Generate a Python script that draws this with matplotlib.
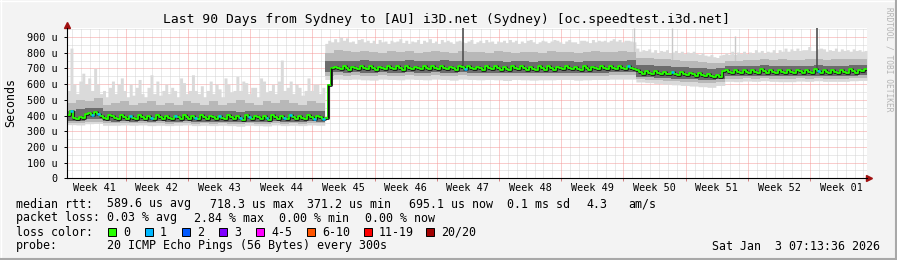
import numpy as np
import matplotlib
matplotlib.use("Agg")
import matplotlib.pyplot as plt
from matplotlib.patches import Rectangle
from matplotlib.lines import Line2D

W, H = 897, 260
MONO = "DejaVu Sans Mono"

title = "Last 90 Days from Sydney to [AU] i3D.net (Sydney) [oc.speedtest.i3d.net]"
week_labels = ["Week 41", "Week 42", "Week 43", "Week 44", "Week 45", "Week 46", "Week 47",
               "Week 48", "Week 49", "Week 50", "Week 51", "Week 52", "Week 01"]
y_values = [0, 100, 200, 300, 400, 500, 600, 700, 800, 900]
y_labels = ["0", "100 u", "200 u", "300 u", "400 u", "500 u", "600 u", "700 u", "800 u", "900 u"]

# median rtt (microseconds), 3 samples per day, 90 days
median = [
    402, 428, 386, 380, 392, 384, 412, 418, 404, 420, 410, 396,
    386, 380, 404, 394, 382, 378, 404, 390, 380, 400, 386, 378,
    402, 392, 380, 396, 384, 378, 404, 392, 380, 400, 386, 376,
    398, 388, 378, 402, 390, 380, 398, 386, 376, 404, 390, 378,
    400, 388, 376, 396, 384, 378, 402, 390, 376, 398, 384, 372,
    404, 392, 378, 400, 388, 376, 398, 384, 374, 404, 392, 380,
    400, 386, 376, 402, 390, 378, 398, 386, 376, 404, 392, 380,
    400, 388, 378, 386, 595, 704,
    712, 700, 694, 716, 702, 692, 712, 700, 694, 718, 704, 694,
    714, 700, 692, 712, 700, 696, 716, 702, 694, 714, 700, 692,
    718, 704, 696, 712, 700, 694, 716, 702, 694, 714, 702, 696,
    718, 704, 694, 712, 700, 692, 716, 708, 696, 714, 702, 694,
    712, 700, 692, 716, 702, 694, 714, 700, 692, 712, 698, 690,
    716, 702, 694, 714, 700, 692, 712, 698, 690, 716, 702, 692,
    714, 700, 692, 712, 700, 694, 716, 702, 694, 712, 698, 690,
    714, 700, 692, 712, 700, 694, 716, 702, 694, 714, 702, 696,
    716, 702, 696, 718, 704, 696,
    690, 676, 668, 684, 672, 666, 682, 670, 664, 680, 668, 662,
    678, 666, 658, 676, 664, 656, 674, 662, 654, 670, 658, 650,
    668, 654, 646, 660, 646, 682, 690, 680, 672, 688, 678, 670,
    692, 680, 672, 690, 678, 670, 694, 682, 674, 690, 680, 672,
    692, 680, 670, 688, 678, 670, 692, 682, 674, 690, 680, 672,
    694, 682, 674, 690, 678, 670, 692, 680, 672, 690, 680, 674,
    694, 682, 674, 690, 684, 694,
]

# highest ping per sample, 3 samples per day
smoke_max = [
    560, 830, 600, 540, 620, 670, 600, 640, 560, 700, 600, 540,
    560, 520, 580, 620, 540, 600, 640, 560, 520, 600, 530, 580,
    630, 540, 520, 580, 660, 540, 620, 530, 560, 600, 540, 580,
    560, 520, 640, 610, 540, 560, 660, 560, 540, 590, 520, 560,
    620, 540, 600, 570, 520, 640, 600, 550, 560, 650, 560, 620,
    610, 540, 580, 580, 520, 640, 620, 550, 560, 600, 540, 620,
    754, 560, 580, 620, 540, 600, 580, 530, 560, 640, 560, 600,
    600, 540, 580, 860, 880, 870,
    890, 870, 900, 880, 895, 870, 875, 860, 885, 890, 870, 880,
    865, 880, 860, 885, 870, 875, 860, 880, 870, 875, 890, 865,
    880, 860, 875, 870, 885, 860, 880, 870, 890, 865, 875, 860,
    885, 870, 880, 870, 860, 875, 880, 870, 865, 875, 885, 860,
    870, 880, 865, 885, 870, 875, 860, 875, 870, 880, 865, 885,
    870, 880, 860, 875, 865, 880, 885, 870, 860, 870, 880, 875,
    865, 875, 885, 880, 870, 860, 875, 885, 870, 870, 860, 880,
    880, 875, 865, 885, 870, 880, 875, 880, 870, 880, 890, 875,
    885, 870, 880, 880, 875, 870,
    830, 810, 820, 815, 825, 805, 820, 800, 815, 810, 820, 800,
    805, 815, 800, 810, 795, 805, 800, 810, 795, 790, 800, 785,
    780, 790, 775, 770, 785, 790, 800, 790, 810, 790, 805, 795,
    810, 795, 805, 800, 820, 805, 815, 800, 810, 805, 820, 800,
    820, 810, 830, 810, 825, 815, 830, 815, 820, 820, 840, 815,
    815, 825, 830, 825, 810, 820, 815, 830, 810, 825, 815, 820,
    810, 825, 815, 820, 810, 815,
]

# per-day percentile bands (microseconds)
smoke_hi = [
    480, 500, 490, 510, 470, 480, 490, 470, 480, 490, 470, 480, 470, 490, 480,
    470, 490, 470, 480, 500, 480, 470, 490, 480, 500, 480, 470, 490, 480, 800,
    815, 810, 805, 812, 808, 800, 810, 805, 812, 800, 808, 810, 805, 800, 812,
    808, 805, 800, 810, 806, 800, 808, 804, 800, 810, 805, 808, 800, 806, 810,
    804, 808, 812, 806, 770, 765, 760, 758, 755, 750, 745, 740, 735, 735, 745,
    750, 755, 752, 758, 755, 760, 752, 756, 760, 758, 755, 760, 758, 762, 760,
]
core_hi = [
    430, 440, 445, 445, 430, 428, 430, 426, 430, 428, 430, 426, 428, 430, 426,
    430, 428, 426, 430, 424, 430, 428, 426, 430, 428, 430, 426, 430, 428, 745,
    748, 750, 746, 752, 748, 746, 750, 748, 752, 746, 750, 748, 752, 746, 750,
    748, 746, 750, 748, 744, 750, 748, 744, 750, 748, 746, 750, 744, 748, 746,
    750, 748, 750, 752, 725, 720, 716, 714, 712, 708, 705, 700, 698, 700, 715,
    714, 718, 716, 720, 716, 718, 714, 718, 716, 720, 716, 718, 716, 720, 722,
]
core_lo = [
    368, 366, 375, 378, 364, 362, 364, 362, 364, 362, 364, 360, 362, 364, 360,
    362, 360, 362, 360, 356, 362, 360, 358, 364, 360, 362, 360, 364, 362, 675,
    676, 674, 676, 674, 672, 676, 674, 672, 676, 674, 674, 676, 674, 672, 676,
    674, 672, 674, 672, 670, 674, 672, 670, 672, 672, 674, 674, 670, 672, 674,
    674, 676, 676, 676, 648, 645, 642, 640, 636, 634, 632, 628, 624, 630, 652,
    650, 654, 652, 655, 652, 650, 650, 654, 652, 655, 652, 652, 652, 655, 658,
]
smoke_lo = [
    355, 352, 360, 362, 350, 350, 352, 350, 352, 350, 350, 348, 350, 352, 348,
    350, 348, 350, 348, 344, 350, 348, 346, 352, 348, 350, 348, 352, 350, 655,
    656, 654, 656, 654, 652, 656, 654, 652, 656, 654, 654, 656, 654, 652, 656,
    654, 652, 654, 652, 650, 654, 652, 650, 652, 652, 654, 654, 650, 652, 654,
    654, 656, 656, 656, 632, 628, 625, 622, 618, 615, 612, 608, 605, 612, 636,
    634, 638, 636, 640, 636, 634, 634, 638, 636, 640, 636, 636, 636, 640, 642,
]
smoke_min = [
    342, 340, 348, 350, 338, 338, 340, 338, 340, 336, 338, 336, 338, 340, 336,
    338, 336, 338, 336, 332, 338, 336, 334, 340, 336, 338, 336, 340, 338, 630,
    632, 630, 632, 628, 626, 632, 630, 628, 632, 630, 628, 632, 630, 626, 632,
    630, 628, 630, 628, 624, 630, 628, 626, 628, 628, 630, 630, 626, 628, 630,
    630, 632, 632, 632, 614, 610, 605, 600, 596, 592, 588, 584, 580, 592, 618,
    616, 620, 618, 622, 618, 616, 616, 620, 618, 622, 618, 618, 618, 622, 624,
]

# single-sample outliers: day, top value
dark_spike_day = [44.55, 84.35]
dark_spike_top = [960, 960]
light_spike_day = [63.8, 68.1, 75.2]
light_spike_top = [960, 960, 905]

# median samples with 1 lost ping
loss1_samples = [1, 8, 10, 21, 28, 36, 43, 51, 58, 61, 67, 73, 75, 83, 86, 134, 189, 204, 253]

loss_names = ["0", "1", "2", "3", "4-5", "6-10", "11-19", "20/20"]
loss_colors = ["#26ff00", "#00b8ff", "#0059ff", "#7e00ff", "#ff00ff", "#ff5500", "#ff0000", "#a10000"]


def fx(px):
    return px / W


def fy(py):
    return 1 - py / H


def steps(values, per_day):
    x = np.arange(len(values) + 1) / per_day
    y = np.append(values, values[-1])
    return x, y


fig = plt.figure(figsize=(W / 100, H / 100), dpi=100, facecolor="#f3f3f3")
ax = fig.add_axes([fx(67), fy(178.3), 800 / W, 149.8 / H])
ax.set_facecolor("white")
ax.set_xlim(0, 90)
ax.set_ylim(0, 955)

# grid
dot = (0, (1, 1))
week_edges = [6.6 + 7 * k for k in range(12)]
for d in np.arange(0.6, 90, 1.0):
    if min(abs(d - e) for e in week_edges) > 0.05:
        ax.axvline(d, color="#d4d4d4", lw=0.72, ls=dot, zorder=0)
for v in range(50, 1000, 100):
    ax.axhline(v, color="#d4d4d4", lw=0.72, ls=dot, zorder=0)
for e in week_edges:
    ax.axvline(e, color="#f49a9a", lw=0.72, ls=dot, zorder=0.5)
for v in y_values[1:]:
    ax.axhline(v, color="#f49a9a", lw=0.72, ls=dot, zorder=0.5)

# smoke
xm, ymax = steps(smoke_max, 3)
_, ymin3 = steps(np.repeat(smoke_min, 3), 3)
xd, yhi = steps(smoke_hi, 1)
_, ylo = steps(smoke_lo, 1)
_, ych = steps(core_hi, 1)
_, ycl = steps(core_lo, 1)
xf, ymed = steps(median, 3)

ax.fill_between(xm, ymin3, ymax, step="post", color="#dadada", lw=0, zorder=1)
ax.fill_between(xd, ylo, yhi, step="post", color="#b8b8b8", lw=0, zorder=2)
ax.fill_between(xd, ycl, ych, step="post", color="#6c6c6c", lw=0, zorder=3)

ax.vlines(light_spike_day, [median[int(d * 3)] for d in light_spike_day], light_spike_top,
          color="#c8c8c8", lw=1, zorder=1.5)
ax.vlines(dark_spike_day, [median[int(d * 3)] for d in dark_spike_day], dark_spike_top,
          color="#505050", lw=1.2, zorder=4)

# median line, coloured by loss; big jumps show as thin black verticals
ax.step(xf, ymed, where="post", color="#1a1a1a", lw=2.0, zorder=5)
ax.step(xf, ymed, where="post", color=loss_colors[0], lw=1.3, zorder=6)
for i in loss1_samples:
    ax.hlines(median[i], i / 3, (i + 1) / 3, color=loss_colors[1], lw=1.8, zorder=7)
for i in range(1, len(median)):
    if abs(median[i] - median[i - 1]) > 60:
        ax.vlines(i / 3, median[i - 1], median[i], color="#111111", lw=0.9, zorder=7)

# axes
for s in ["top", "right"]:
    ax.spines[s].set_visible(False)
for s in ["left", "bottom"]:
    ax.spines[s].set_color("black")
    ax.spines[s].set_linewidth(0.8)
    ax.spines[s].set_zorder(8)
ax.set_yticks(y_values, y_labels, fontsize=7.3, family=MONO)
ax.tick_params(axis="y", length=2, pad=4.5, width=0.7)
week_centers = [e - 3.5 for e in week_edges] + [week_edges[-1] + 3.5]
ax.set_xticks(week_centers, week_labels, fontsize=7.3, family=MONO)
ax.set_xticks(week_edges, minor=True)
ax.tick_params(axis="x", which="major", length=0, pad=3.5)
ax.tick_params(axis="x", which="minor", length=2.5, width=0.7, color="#d08080")
ax.plot([0], [1.022], marker="^", ms=5, color="#a01010", transform=ax.transAxes, clip_on=False)
ax.plot([1.003], [0], marker=">", ms=5, color="#a01010", transform=ax.transAxes, clip_on=False)

# texts
fig.text(fx(446.5), fy(19), title, ha="center", va="center", fontsize=9.35, family=MONO)
fig.text(fx(10.5), fy(103), "Seconds", rotation=90, ha="center", va="center", fontsize=8.35, family=MONO)
fig.text(fx(889), fy(59), "RRDTOOL / TOBI OETIKER", rotation=270, ha="center", va="center",
         fontsize=5.7, family=MONO, color="#b4b4b4")

legend_rows = [
    (204, [(16, "median rtt:"), (107, "589.6 us avg"), (210, "718.3 us max"), (307, "371.2 us min"),
           (409, "695.1 us now"), (507, "0.1 ms sd"), (586, "4.3"), (628, "am/s")]),
    (218, [(16, "packet loss:"), (107, "0.03 % avg"), (194, "2.84 % max"), (279, "0.00 % min"),
           (365, "0.00 % now")]),
    (232, [(16, "loss color:")]),
    (246, [(16, "probe:"), (107, "20 ICMP Echo Pings (56 Bytes) every 300s")]),
]
for y, items in legend_rows:
    for x, s in items:
        fig.text(fx(x), fy(y), s, ha="left", va="center", fontsize=8.35, family=MONO)

loss_text_x = [123, 160, 197, 234, 271, 322, 379, 441]
for x, name, c in zip(loss_text_x, loss_names, loss_colors):
    fig.add_artist(Rectangle((fx(x - 15), fy(236)), 8 / W, 8 / H, facecolor=c,
                             edgecolor="black", lw=0.7, transform=fig.transFigure))
    fig.text(fx(x), fy(232), name, ha="left", va="center", fontsize=8.35, family=MONO)

fig.text(fx(880), fy(246), "Sat Jan  3 07:13:36 2026", ha="right", va="center", fontsize=8.35, family=MONO)

# 3d frame
fig.add_artist(Line2D([0, 1], [fy(0.5), fy(0.5)], color="white", lw=1, transform=fig.transFigure))
fig.add_artist(Line2D([fx(0.5), fx(0.5)], [0, 1], color="white", lw=1, transform=fig.transFigure))
fig.add_artist(Line2D([0, 1], [fy(259), fy(259)], color="#a8a8a8", lw=1.5, transform=fig.transFigure))
fig.add_artist(Line2D([fx(896), fx(896)], [0, 1], color="#a8a8a8", lw=1.5, transform=fig.transFigure))

fig.savefig("out.png", dpi=100, facecolor=fig.get_facecolor())
